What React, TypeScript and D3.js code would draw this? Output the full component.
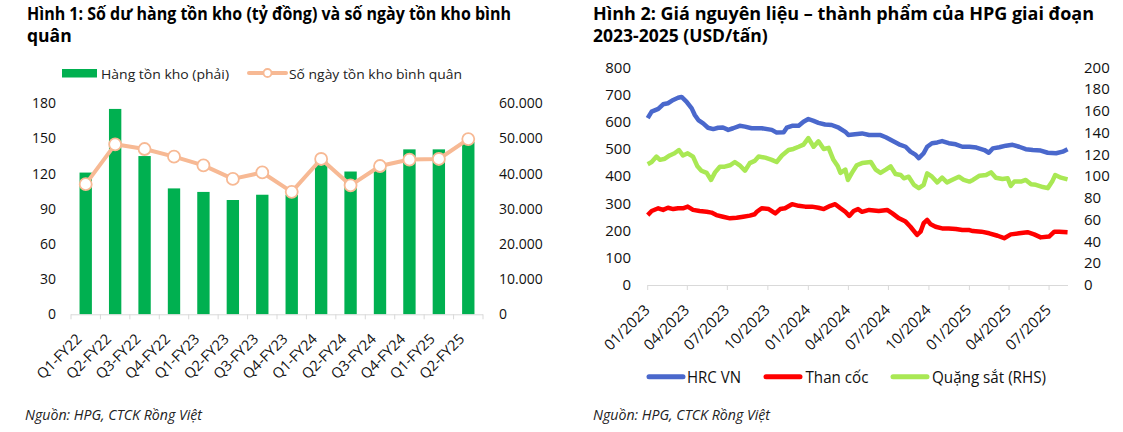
import React from "react";
import * as d3 from "d3";

// ---------- Chart 1 data ----------
const quarters = ["Q1-FY22","Q2-FY22","Q3-FY22","Q4-FY22","Q1-FY23","Q2-FY23","Q3-FY23","Q4-FY23","Q1-FY24","Q2-FY24","Q3-FY24","Q4-FY24","Q1-FY25","Q2-FY25"];
const inventory = [40300,58400,45000,35800,34800,32500,34000,34000,43500,40600,41500,46900,46900,49000];
const inventoryDays = [111,145,141,134.5,127,115.5,121,104.5,132.5,110,126.5,132,132.5,149.5];
const leftTicks1 = [0,30,60,90,120,150,180];
const rightTicks1 = [0,10000,20000,30000,40000,50000,60000];

// ---------- Chart 2 data ----------
const hrcVN: [string, number][] = [
  ["2023-01-01",613],["2023-01-10",637],["2023-01-25",647],["2023-02-05",664],["2023-02-16",668],["2023-02-28",680],
  ["2023-03-11",688],["2023-03-19",691],["2023-03-30",674],["2023-04-11",649],["2023-04-18",625],["2023-04-26",606],
  ["2023-05-07",594],["2023-05-18",578],["2023-05-30",573],["2023-06-10",578],["2023-06-21",579],["2023-07-03",570],
  ["2023-07-14",576],["2023-07-29",585],["2023-08-10",582],["2023-08-25",576],["2023-09-17",576],["2023-10-10",570],
  ["2023-10-21",560],["2023-11-06",561],["2023-11-13",578],["2023-11-25",585],["2023-12-10",585],["2023-12-21",600],
  ["2024-01-01",610],["2024-01-13",603],["2024-01-24",596],["2024-02-08",590],["2024-02-23",588],["2024-03-10",578],
  ["2024-03-25",563],["2024-04-01",551],["2024-04-16",554],["2024-05-02",557],["2024-05-18",551],["2024-06-13",551],
  ["2024-06-25",543],["2024-07-10",530],["2024-07-25",517],["2024-08-09",508],["2024-08-20",490],["2024-09-01",478],
  ["2024-09-08",466],["2024-09-19",484],["2024-09-27",508],["2024-10-08",521],["2024-10-20",524],["2024-10-31",529],
  ["2024-11-15",521],["2024-12-01",517],["2024-12-16",508],["2025-01-01",508],["2025-01-17",505],["2025-02-04",496],
  ["2025-02-14",486],["2025-02-23",502],["2025-03-10",506],["2025-03-25",512],["2025-04-09",515],["2025-04-24",508],
  ["2025-05-09",499],["2025-05-25",496],["2025-06-12",494],["2025-06-28",486],["2025-07-17",484],["2025-08-01",490],
  ["2025-08-12",499]
];
const cokingCoal: [string, number][] = [
  ["2023-01-01",257],["2023-01-10",272],["2023-01-25",282],["2023-02-05",276],["2023-02-16",284],["2023-02-28",279],
  ["2023-03-11",282],["2023-03-22",282],["2023-04-02",288],["2023-04-14",276],["2023-04-29",272],["2023-05-15",269],
  ["2023-05-26",266],["2023-06-06",257],["2023-06-21",251],["2023-07-07",245],["2023-07-22",247],["2023-08-06",251],
  ["2023-08-21",255],["2023-09-01",260],["2023-09-06",269],["2023-09-17",282],["2023-10-03",279],["2023-10-18",263],
  ["2023-10-29",279],["2023-11-09",282],["2023-11-25",297],["2023-12-10",291],["2023-12-25",288],["2024-01-09",288],
  ["2024-01-24",284],["2024-02-05",279],["2024-02-20",291],["2024-03-02",297],["2024-03-14",282],["2024-03-25",269],
  ["2024-04-03",254],["2024-04-13",272],["2024-04-23",279],["2024-05-02",269],["2024-05-18",276],["2024-06-09",272],
  ["2024-06-28",276],["2024-07-10",263],["2024-07-25",245],["2024-08-09",233],["2024-08-20",214],["2024-09-04",184],
  ["2024-09-12",196],["2024-09-19",227],["2024-09-27",239],["2024-10-05",223],["2024-10-16",214],["2024-10-31",208],
  ["2024-11-15",208],["2024-12-01",206],["2024-12-16",202],["2025-01-01",202],["2025-01-09",198],["2025-01-28",196],
  ["2025-02-15",190],["2025-03-06",181],["2025-03-21",172],["2025-04-05",186],["2025-04-24",190],["2025-05-13",194],
  ["2025-05-28",186],["2025-06-12",175],["2025-07-01",178],["2025-07-13",196],["2025-07-24",196],["2025-08-12",194]
];
const ironOre: [string, number][] = [
  ["2023-01-01",111],["2023-01-10",113],["2023-01-21",118],["2023-01-29",115],["2023-02-09",116],["2023-02-20",119],
  ["2023-03-03",121],["2023-03-13",124],["2023-03-22",119],["2023-04-02",121],["2023-04-14",118],["2023-04-24",109],
  ["2023-05-03",105],["2023-05-15",103],["2023-05-25",96.5],["2023-06-03",103.5],["2023-06-14",108.7],["2023-06-25",108.7],
  ["2023-07-07",110],["2023-07-18",113],["2023-07-29",110],["2023-08-10",105],["2023-08-21",112],["2023-09-01",114],
  ["2023-09-10",118],["2023-09-25",117],["2023-10-10",115],["2023-10-21",113],["2023-11-02",119],["2023-11-17",124],
  ["2023-11-28",125],["2023-12-10",127],["2023-12-21",129],["2024-01-01",135],["2024-01-13",127],["2024-01-24",132],
  ["2024-02-05",125],["2024-02-16",126],["2024-02-27",115],["2024-03-08",109],["2024-03-14",103],["2024-03-25",106],
  ["2024-03-31",96.5],["2024-04-09",103],["2024-04-20",110],["2024-05-02",112],["2024-05-22",113],["2024-06-02",106],
  ["2024-06-13",103],["2024-06-25",106],["2024-07-06",109],["2024-07-17",102],["2024-07-29",101],["2024-08-05",98],
  ["2024-08-16",99.5],["2024-08-28",92],["2024-09-08",89],["2024-09-19",92],["2024-09-27",102.6],["2024-10-08",99.5],
  ["2024-10-20",94.3],["2024-10-31",98.6],["2024-11-11",94.3],["2024-11-27",97.4],["2024-12-08",99.5],["2024-12-19",96.5],
  ["2025-01-01",95],["2025-01-09",96.5],["2025-01-24",100.4],["2025-02-08",101],["2025-02-19",103.5],["2025-03-02",98.6],
  ["2025-03-17",97.4],["2025-03-29",98],["2025-04-05",91],["2025-04-13",95],["2025-04-28",95],["2025-05-09",96.5],
  ["2025-05-21",92.5],["2025-06-01",92],["2025-06-17",90],["2025-06-28",89],["2025-07-08",95],["2025-07-15",101],
  ["2025-07-28",98.6],["2025-08-12",97]
];
const leftTicks2 = [0,100,200,300,400,500,600,700,800];
const rightTicks2 = [0,20,40,60,80,100,120,140,160,180,200];
const seriesNames2 = ["HRC VN","Than cốc","Quặng sắt (RHS)"];

const FONT = "'Open Sans', sans-serif";
const AXIS_GRAY = "#d9d9d9";
const GREEN_BAR = "#00b050";
const PEACH = "#f7b994";
const BLUE = "#4a68cc";
const RED = "#ff0000";
const LIME = "#a9e854";

const parse = d3.timeParse("%Y-%m-%d");
const fmtThousand = (v: number) => (v === 0 ? "0" : d3.format(",")(v).replace(/,/g, "."));

function Chart1() {
  const x0 = 71, x1 = 483, yTop = 103.3, yBot = 314.3;
  const x = d3.scaleBand<string>().domain(quarters).range([x0, x1]).paddingInner(0).paddingOuter(0);
  const yL = d3.scaleLinear().domain([0, 180]).range([yBot, yTop]);
  const yR = d3.scaleLinear().domain([0, 60000]).range([yBot, yTop]);
  const bw = x.bandwidth() * 0.42;
  const line = d3.line<number>().x((_, i) => x(quarters[i])! + x.bandwidth() / 2).y((d) => yL(d));
  const boundaries = quarters.map((q) => x(q)!).concat([x1]);
  return (
    <g fontFamily={FONT}>
      <text x={27} y={20} fontSize={17.5} fontWeight={700} fill="#000" textLength={484} lengthAdjust="spacingAndGlyphs">Hình 1: Số dư hàng tồn kho (tỷ đồng) và số ngày tồn kho bình</text>
      <text x={27} y={42} fontSize={17.5} fontWeight={700} fill="#000">quân</text>
      {/* legend */}
      <rect x={62} y={69} width={35} height={8.5} fill={GREEN_BAR} />
      <text x={101} y={78.5} fontSize={13.5} fill="#222" textLength={128} lengthAdjust="spacingAndGlyphs">Hàng tồn kho (phải)</text>
      <line x1={249} x2={286} y1={73} y2={73} stroke={PEACH} strokeWidth={4} strokeLinecap="round" />
      <circle cx={267.5} cy={73} r={4} fill="#fff" stroke={PEACH} strokeWidth={1.8} />
      <text x={289} y={78.5} fontSize={13.5} fill="#222" textLength={173} lengthAdjust="spacingAndGlyphs">Số ngày tồn kho bình quân</text>
      {/* bars */}
      {inventory.map((v, i) => (
        <rect key={i} x={x(quarters[i])! + (x.bandwidth() - bw) / 2} y={yR(v)} width={bw} height={yBot - yR(v)} fill={GREEN_BAR} />
      ))}
      {/* axis */}
      <line x1={x0} x2={x1} y1={yBot + 0.5} y2={yBot + 0.5} stroke={AXIS_GRAY} strokeWidth={1} />
      {boundaries.map((b, i) => (
        <line key={i} x1={b} x2={b} y1={yBot} y2={yBot + 5} stroke={AXIS_GRAY} strokeWidth={1} />
      ))}
      {/* line */}
      <path d={line(inventoryDays)!} fill="none" stroke={PEACH} strokeWidth={4} strokeLinejoin="round" />
      {inventoryDays.map((v, i) => (
        <circle key={i} cx={x(quarters[i])! + x.bandwidth() / 2} cy={yL(v)} r={6} fill="#fff" stroke={PEACH} strokeWidth={1.8} />
      ))}
      {/* y ticks */}
      {leftTicks1.map((t) => (
        <text key={t} x={56} y={yL(t)} dy="0.35em" textAnchor="end" fontSize={14} fill="#111">{t}</text>
      ))}
      {rightTicks1.map((t) => (
        <text key={t} x={499} y={yR(t)} dy="0.35em" textAnchor="start" fontSize={14} fill="#111">{fmtThousand(t)}</text>
      ))}
      {/* x labels */}
      {quarters.map((q) => {
        const cx = x(q)! + x.bandwidth() / 2;
        return (
          <text key={q} transform={`translate(${cx - 3},${340}) rotate(-45)`} textAnchor="end" fontSize={14.5} fill="#111">{q}</text>
        );
      })}
      <text x={25} y={420} fontSize={14.5} fontStyle="italic" fill="#222" textLength={177} lengthAdjust="spacingAndGlyphs">Nguồn: HPG, CTCK Rồng Việt</text>
    </g>
  );
}

function Chart2() {
  const x0 = 647.7, x1 = 1068, yTop = 67.3, yBot = 285;
  const x = d3.scaleTime().domain([parse("2023-01-01")!, parse("2025-08-13")!]).range([x0, x1]);
  const yL = d3.scaleLinear().domain([0, 800]).range([yBot, yTop]);
  const yR = d3.scaleLinear().domain([0, 200]).range([yBot, yTop]);
  const ticks = d3.timeMonth.range(parse("2023-01-01")!, parse("2025-07-02")!, 3);
  const fmt = d3.timeFormat("%m/%Y");
  const lineL = d3.line<[string, number]>().x((d) => x(parse(d[0])!)).y((d) => yL(d[1]));
  const lineR = d3.line<[string, number]>().x((d) => x(parse(d[0])!)).y((d) => yR(d[1]));
  const legendItems = [
    { name: seriesNames2[0], color: BLUE, lx: 647, tx: 687, w: 54 },
    { name: seriesNames2[1], color: RED, lx: 764, tx: 805.5, w: 63 },
    { name: seriesNames2[2], color: LIME, lx: 891, tx: 932, w: 114 },
  ];
  return (
    <g fontFamily={FONT}>
      <text x={593} y={20} fontSize={17.5} fontWeight={700} fill="#000" textLength={501} lengthAdjust="spacingAndGlyphs">Hình 2: Giá nguyên liệu – thành phẩm của HPG giai đoạn</text>
      <text x={593} y={42} fontSize={17.5} fontWeight={700} fill="#000">2023-2025 (USD/tấn)</text>
      {/* axis */}
      <line x1={x0} x2={x1} y1={yBot + 0.5} y2={yBot + 0.5} stroke={AXIS_GRAY} strokeWidth={1} />
      {ticks.map((t, i) => (
        <line key={i} x1={x(t)} x2={x(t)} y1={yBot} y2={yBot + 5} stroke={AXIS_GRAY} strokeWidth={1} />
      ))}
      {/* lines */}
      <path d={lineL(hrcVN)!} fill="none" stroke={BLUE} strokeWidth={4.5} strokeLinejoin="round" />
      <path d={lineR(ironOre)!} fill="none" stroke={LIME} strokeWidth={4.5} strokeLinejoin="round" />
      <path d={lineL(cokingCoal)!} fill="none" stroke={RED} strokeWidth={4.5} strokeLinejoin="round" />
      {/* y ticks */}
      {leftTicks2.map((t) => (
        <text key={t} x={631} y={yL(t)} dy="0.35em" textAnchor="end" fontSize={15} fill="#111">{t}</text>
      ))}
      {rightTicks2.map((t) => (
        <text key={t} x={1084} y={yR(t)} dy="0.35em" textAnchor="start" fontSize={15} fill="#111">{t}</text>
      ))}
      {/* x labels */}
      {ticks.map((t, i) => (
        <text key={i} transform={`translate(${x(t) + 3},${311}) rotate(-45)`} textAnchor="end" fontSize={15} fill="#111">{fmt(t)}</text>
      ))}
      {/* legend */}
      {legendItems.map((l) => (
        <g key={l.name}>
          <line x1={l.lx + 2} x2={l.lx + 36} y1={376.7} y2={376.7} stroke={l.color} strokeWidth={5} strokeLinecap="round" />
          <text x={l.tx} y={382.5} fontSize={15.5} fill="#111" textLength={l.w} lengthAdjust="spacingAndGlyphs">{l.name}</text>
        </g>
      ))}
      <text x={593} y={420} fontSize={14.5} fontStyle="italic" fill="#222" textLength={177} lengthAdjust="spacingAndGlyphs">Nguồn: HPG, CTCK Rồng Việt</text>
    </g>
  );
}

export default function App() {
  return (
    <div style={{ position: "absolute", left: 0, top: 0 }}>
      <svg width={1123} height={432} style={{ display: "block", background: "#fff" }}>
        <Chart1 />
        <Chart2 />
      </svg>
    </div>
  );
}
